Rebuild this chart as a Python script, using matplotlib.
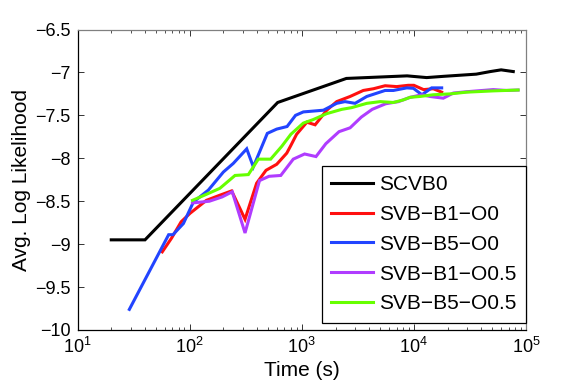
import matplotlib
matplotlib.use("Agg")
import matplotlib.pyplot as plt

plt.rcParams["font.family"] = ["Liberation Sans", "DejaVu Sans"]
plt.rcParams["mathtext.fontset"] = "custom"
plt.rcParams["mathtext.rm"] = "Liberation Sans"
plt.rcParams["mathtext.it"] = "Liberation Sans:italic"
plt.rcParams["mathtext.bf"] = "Liberation Sans:bold"

# values
t_scvb0 = [20, 40, 610, 2500, 8700, 13000, 18600, 36000, 48000, 60000, 77000]
ll_scvb0 = [-8.95, -8.95, -7.35, -7.07, -7.04, -7.06, -7.045, -7.02, -6.99, -6.97, -6.99]

t_b1_o0 = [57, 69, 84, 101, 141, 186, 237, 312, 396, 480, 598, 735, 800, 900,
           1110, 1316, 1672, 2050, 2700, 3540, 4360, 5540, 7030, 8900, 10000,
           12200, 14900, 17700]
ll_b1_o0 = [-9.09, -8.93, -8.74, -8.64, -8.49, -8.43, -8.38, -8.71, -8.29, -8.14,
            -8.07, -7.94, -7.85, -7.72, -7.58, -7.61, -7.44, -7.34, -7.28, -7.21,
            -7.19, -7.155, -7.165, -7.15, -7.15, -7.20, -7.19, -7.23]

t_b5_o0 = [29, 65, 71, 88, 108, 147, 200, 245, 323, 370, 493, 598, 740, 880,
           1033, 1560, 2050, 2430, 2990, 3800, 5540, 6560, 8650, 9900, 11800,
           14400, 17700]
ll_b5_o0 = [-9.76, -8.89, -8.89, -8.76, -8.51, -8.37, -8.16, -8.06, -7.89, -8.10,
            -7.71, -7.66, -7.63, -7.50, -7.46, -7.44, -7.36, -7.34, -7.36, -7.28,
            -7.21, -7.21, -7.18, -7.185, -7.26, -7.18, -7.18]

t_b1_o05 = [106, 150, 195, 240, 312, 420, 510, 650, 840, 1060, 1340, 1640, 2150,
            2700, 3400, 4250, 5600, 7300, 9250, 11800, 13900, 18300, 22500,
            29400, 51000, 67000, 85000]
ll_b1_o05 = [-8.52, -8.50, -8.45, -8.39, -8.87, -8.26, -8.21, -8.20, -8.01, -7.95,
             -7.98, -7.83, -7.69, -7.645, -7.52, -7.43, -7.365, -7.34, -7.29,
             -7.26, -7.28, -7.30, -7.24, -7.225, -7.20, -7.21, -7.205]

t_b5_o05 = [106, 141, 186, 254, 334, 410, 528, 664, 800, 1033, 1260, 1670, 2275,
            2790, 3800, 5010, 6560, 8050, 9250, 11350, 14900, 21000, 29400,
            51000, 85000]
ll_b5_o05 = [-8.49, -8.42, -8.35, -8.20, -8.19, -8.01, -8.01, -7.86, -7.72, -7.59,
             -7.55, -7.48, -7.43, -7.41, -7.36, -7.34, -7.35, -7.32, -7.29, -7.28,
             -7.26, -7.25, -7.23, -7.215, -7.205]

labels = ["SCVB0", "SVB\u2212B1\u2212O0", "SVB\u2212B5\u2212O0",
          "SVB\u2212B1\u2212O0.5", "SVB\u2212B5\u2212O0.5"]
colors = ["#000000", "#ff1010", "#2244ff", "#b03cff", "#66ff00"]

y_ticks = [-10, -9.5, -9, -8.5, -8, -7.5, -7, -6.5]
y_ticklabels = ["\u221210", "\u22129.5", "\u22129", "\u22128.5", "\u22128",
                "\u22127.5", "\u22127", "\u22126.5"]

fig = plt.figure(figsize=(5.81, 3.88), dpi=100)
ax = fig.add_axes([77.5 / 581, 58 / 388, 448.5 / 581, 300.5 / 388])

series = [(t_scvb0, ll_scvb0), (t_b1_o0, ll_b1_o0), (t_b5_o0, ll_b5_o0),
          (t_b1_o05, ll_b1_o05), (t_b5_o05, ll_b5_o05)]
for (t, ll), lab, c in zip(series, labels, colors):
    ax.plot(t, ll, color=c, lw=2.2, label=lab, solid_joinstyle="miter")

ax.set_xscale("log")
ax.set_xlim(10, 1e5)
ax.set_ylim(-10, -6.5)
ax.set_yticks(y_ticks)
ax.set_yticklabels(y_ticklabels)
ax.tick_params(which="both", direction="in", top=True, right=True,
               labelsize=13, colors="#333333", labelcolor="black")
ax.tick_params(which="major", length=4.5, width=0.7, pad=5)
ax.tick_params(which="minor", length=2.5, width=0.6)
for side in ["top", "right"]:
    ax.spines[side].set_color("#808080")
for side in ["left", "bottom"]:
    ax.spines[side].set_color("black")
for sp in ax.spines.values():
    sp.set_linewidth(0.9)

ax.set_xlabel("Time (s)", fontsize=15, labelpad=3)
ax.set_ylabel("Avg. Log Likelihood", fontsize=15, labelpad=3)

leg = ax.legend(loc="lower right", bbox_to_anchor=(1.0, 0.024),
                borderaxespad=0, fontsize=15, handlelength=2.0,
                handletextpad=0.3, labelspacing=0.52, borderpad=0.45,
                fancybox=False, framealpha=1)
leg.get_frame().set_edgecolor("black")
leg.get_frame().set_linewidth(0.9)

fig.savefig("out.png", dpi=100)
